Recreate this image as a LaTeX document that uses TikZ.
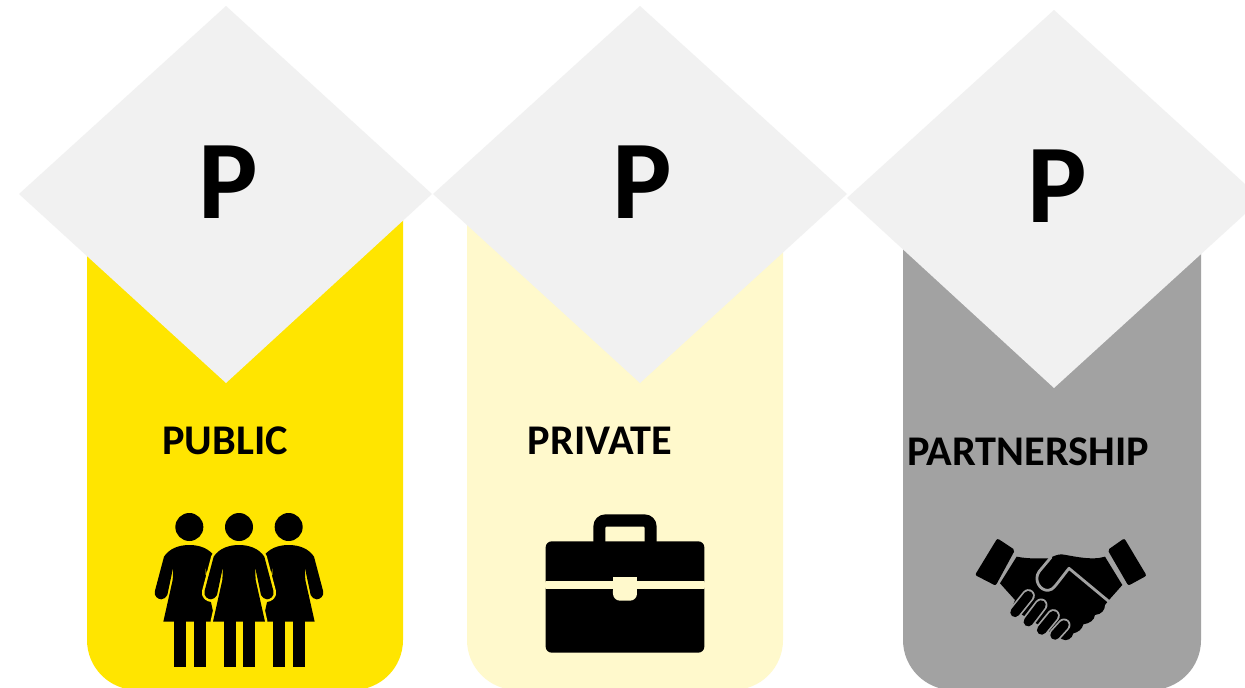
\documentclass[tikz,border=0pt]{standalone}
\usepackage{fontspec}
\setmainfont{Carlito}
\definecolor{yel}{HTML}{FFE500}
\definecolor{pale}{HTML}{FFF9CC}
\definecolor{gry}{HTML}{A2A2A2}
\definecolor{dia}{HTML}{F1F1F1}
\tikzset{
  column/.style={rounded corners=50pt},
  diamondshape/.style={fill=dia},
  bigp/.style={font=\bfseries\fontsize{112}{112}\selectfont,text=black,inner sep=0pt,anchor=center},
  caption/.style={font=\bfseries\fontsize{42.3}{42.3}\selectfont,text=black,inner sep=0pt,anchor=center},
}
\newcommand{\womanbody}{(0,135) .. controls (-32,135) and (-60,146) .. (-76,170)
  -- (-103,272) .. controls (-108,290) and (-92,298) .. (-84,298)
  .. controls (-76,298) and (-70,292) .. (-66,285)
  -- (-48,200) -- (-50,240) -- (-78,365) -- (78,365) -- (50,240) -- (48,200)
  -- (66,285) .. controls (70,292) and (76,298) .. (84,298)
  .. controls (92,298) and (108,290) .. (103,272)
  -- (76,170) .. controls (60,146) and (32,135) .. (0,135) -- cycle}
\newcommand{\womanparts}{
  \fill[black] (0,81) circle (42);
  \fill[black] (-46,360) rectangle (-10,500);
  \fill[black] (13,360) rectangle (49,500);
}
\begin{document}
\begin{tikzpicture}[x=1pt,y=-1pt]
\useasboundingbox (0,0) rectangle (1245,688);
\fill[white] (0,0) rectangle (1245,688);
\begin{scope}
\clip (0,0) rectangle (1245,688);
% columns
\fill[yel,column] (87,150) -- (87,690) -- (403,690) -- (403,150) -- cycle;
\fill[pale,column] (467,150) -- (467,690) -- (783,690) -- (783,150) -- cycle;
\fill[gry,column] (903,150) -- (903,690) -- (1201,690) -- (1201,150) -- cycle;
\end{scope}
% diamonds
\fill[diamondshape] (19,194) -- (226,6) -- (432,194) -- (226,383) -- cycle;
\fill[diamondshape] (433,194) -- (640,6) -- (847,194) -- (640,383) -- cycle;
\fill[diamondshape] (847,198) -- (1054,10) -- (1245,184) -- (1245,214) -- (1054,388) -- cycle;
% letters
\node[bigp] (p1) at (228,182) {P};
\node[bigp] (p2) at (642,182) {P};
\node[bigp] (p3) at (1057,186) {P};
% captions
\node[caption] (t1) at (225,441) {PUBLIC};
\node[caption] (t2) at (600,441) {PRIVATE};
\node[caption] (t3) at (1028,452) {PARTNERSHIP};
% women
\begin{scope}[shift={(140,500)},x=0.3333pt,y=-0.3333pt]
  \begin{scope}[xshift=49.33pt]
    \fill[black] \womanbody; \womanparts
  \end{scope}
  \begin{scope}[xshift=148.67pt]
    \fill[black] \womanbody; \womanparts
  \end{scope}
  \begin{scope}[xshift=99pt]
    \draw[yel,line width=5pt,line join=round,fill=yel] \womanbody;
    \fill[black] \womanbody; \womanparts
  \end{scope}
\end{scope}
% briefcase
\begin{scope}[shift={(530,500)},x=0.3333pt,y=-0.3333pt]
  \fill[black,rounded corners=12pt] (190,170) -- (190,43) -- (380,43) -- (380,170) -- cycle;
  \fill[pale,rounded corners=1pt] (226,170) -- (226,80) -- (344,80) -- (344,170) -- cycle;
  \fill[black,rounded corners=6pt] (47,260) -- (47,124) -- (523,124) -- (523,260) -- cycle;
  \fill[black,rounded corners=6pt] (47,250) -- (47,458) -- (523,458) -- (523,250) -- cycle;
  \fill[pale] (47,243) rectangle (523,267);
  \fill[pale,rounded corners=7pt] (249,250) -- (249,302) -- (321,302) -- (321,250) -- cycle;
  \fill[pale] (249,231) rectangle (321,262);
\end{scope}
% handshake
\begin{scope}[shift={(965,525)},x=0.3333pt,y=-0.3333pt]
  \fill[black,rounded corners=2pt] (97,40) -- (150,75) -- (92,182) -- (30,150) -- cycle;
  \fill[black,rounded corners=2pt] (478,40) -- (545,152) -- (490,182) -- (428,75) -- cycle;
  \fill[black] (155,95) .. controls (190,102) and (220,100) .. (250,100)
    .. controls (265,95) and (275,88) .. (290,88)
    .. controls (320,92) and (380,108) .. (420,95)
    -- (472,180) -- (432,225) -- (420,240) .. controls (420,255) and (410,268) .. (390,270)
    .. controls (388,285) and (375,295) .. (355,298)
    .. controls (352,312) and (340,322) .. (325,325)
    .. controls (322,340) and (305,352) .. (290,342)
    -- (140,250) -- (150,225) -- (105,175) -- cycle;
  % thumb outline
  \draw[gry,line width=2.8pt,line join=round,line cap=round]
    (258,97) -- (222,140) .. controls (205,165) and (225,198) .. (250,196)
    .. controls (265,195) and (272,180) .. (312,130) -- (430,228);
  % fingers
  \foreach \xa/\ya/\xb/\yb in {270/330/297/300, 230/315/265/272, 190/290/228/240, 150/262/190/212}{
    \draw[gry,line width=13pt,line cap=round] (\xa,\ya) -- (\xb,\yb);
    \draw[black,line width=9.5pt,line cap=round] (\xa,\ya) -- (\xb,\yb);
  }
\end{scope}
\end{tikzpicture}
\end{document}
